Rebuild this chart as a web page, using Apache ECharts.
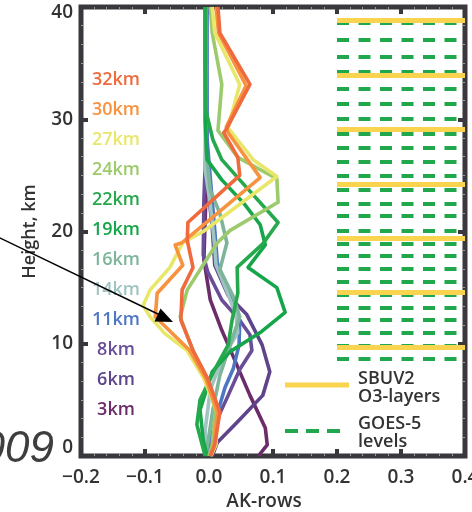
<!DOCTYPE html>
<html>
<head>
<meta charset="utf-8">
<script src="https://cdn.jsdelivr.net/npm/echarts@6.0.0/dist/echarts.min.js"></script>
<style>
  html, body { margin: 0; padding: 0; background: #ffffff; }
  #chart { width: 472px; height: 512px; }
</style>
</head>
<body>
<div id="chart"></div>
<script>
// Averaging-kernel rows: [AK value, height km], top to bottom
const ak32 = [[0.014,40],[0.017,37.7],[0.064,33.1],[0.028,29.2],[0.023,28.8],[0.045,26.6],[0.048,25.0],[-0.033,20.8],[-0.034,19.2],[-0.025,16.8],[-0.042,14.8],[-0.044,12.1],[-0.025,9.4],[-0.002,6.9],[0.017,3.9],[0.009,1.0],[0.002,0]];
const ak30 = [[0.011,40],[0.015,37.7],[0.058,33.0],[0.027,29.3],[0.030,28.8],[0.080,24.8],[-0.042,19.0],[-0.053,18.8],[-0.041,17.0],[-0.081,14.5],[-0.084,12.4],[-0.030,9.4],[-0.005,6.9],[0.013,3.9],[0.008,1.0],[0.002,0]];
const ak27 = [[0.005,40],[0.009,37.7],[0.048,33.1],[0.033,29.9],[0.030,29.2],[0.069,26.4],[0.106,24.9],[-0.009,20.0],[-0.041,19.0],[-0.061,16.8],[-0.092,14.8],[-0.103,13.4],[-0.092,12.4],[-0.069,10.9],[-0.034,9.4],[-0.008,6.9],[0.013,3.9],[0.011,1.0],[0.003,0]];
const ak24 = [[0.002,40],[0.005,37.7],[0.020,33.1],[0.014,29.0],[0.045,26.6],[0.106,24.7],[0.108,22.6],[0.033,20.1],[0.013,19.0],[-0.034,14.8],[-0.045,12.4],[-0.025,9.4],[-0.003,6.9],[0.010,4.0],[0.005,1.0],[0.0,0]];
const ak22 = [[-0.006,40],[-0.006,34.7],[-0.005,30.8],[0.006,28.2],[0.020,26.4],[0.048,24.6],[0.108,20.8],[0.084,18.9],[0.044,16.8],[0.045,14.5],[0.036,12.1],[0.030,9.9],[0.008,7.6],[-0.014,5.0],[-0.019,2.8],[-0.006,0]];
const ak19 = [[-0.006,40],[-0.006,29.9],[-0.003,26.4],[0.020,24.6],[0.056,22.4],[0.080,20.6],[0.088,18.8],[0.061,16.8],[0.106,15.0],[0.119,12.8],[0.080,11.0],[0.033,9.3],[0.005,7.5],[-0.014,4.1],[-0.009,1.4],[-0.003,0]];
const ak16 = [[-0.005,40],[-0.005,27.3],[0.002,23.7],[0.017,21.6],[0.028,19.0],[0.017,16.6],[0.038,14.2],[0.048,12.4],[0.033,9.9],[0.017,7.2],[0.006,4.1],[-0.005,0]];
const ak14 = [[-0.006,40],[-0.006,25.5],[0.002,22.4],[0.008,19.2],[0.011,17.0],[0.027,14.8],[0.042,12.6],[0.045,11.0],[0.020,8.6],[0.002,5.9],[-0.006,2.3],[-0.005,0]];
const ak11 = [[-0.003,40],[-0.003,28.2],[0.005,22.8],[0.009,20.1],[0.013,17.2],[0.033,14.2],[0.048,12.1],[0.047,9.9],[0.038,7.8],[0.025,6.1],[0.009,3.0],[-0.002,0]];
const ak8  = [[-0.005,40],[-0.005,27.3],[-0.008,22.8],[-0.009,17.9],[-0.002,16.4],[0.020,13.9],[0.048,12.1],[0.064,10.8],[0.067,9.4],[0.048,7.7],[0.030,5.4],[0.009,2.8],[0.002,0]];
const ak6  = [[-0.005,40],[-0.003,24.6],[0.005,20.4],[0.009,17.0],[0.030,14.3],[0.059,12.6],[0.083,9.9],[0.095,7.5],[0.084,5.4],[0.044,3.0],[0.013,1.2],[0.005,0]];
const ak3  = [[-0.005,40],[-0.005,22.8],[-0.008,17.5],[0.002,13.9],[0.020,11.2],[0.030,9.9],[0.064,5.4],[0.088,2.5],[0.091,1.0],[0.077,0]];

const rowNames  = ['32km','30km','27km','24km','22km','19km','16km','14km','11km','8km','6km','3km'];
const rowData   = [ak32, ak30, ak27, ak24, ak22, ak19, ak16, ak14, ak11, ak8, ak6, ak3];
const rowColors = ['#ef6a3c','#f7923f','#e9e76a','#9dca6d','#26a84c','#16a64a','#7db59b','#a0c4c2','#4e77c3','#6a4d98','#5f448c','#6c2c6a'];

// Layer boundaries (km) and model levels (km)
const sbuvLayers = [38.8, 33.9, 29.1, 24.2, 19.4, 14.6, 9.7];
const goesLevels = [38.6, 37.06, 35.57, 34.24, 32.76, 31.42, 30.08, 28.75, 27.5, 26.22, 24.97, 23.7, 22.51, 21.38, 20.07, 18.95, 17.82, 16.66, 15.53, 14.34, 13.21, 12.12, 10.98, 9.83, 8.64];
const levelSpan = [0.2, 0.4];

const xTicks = { min: -0.2, max: 0.4, step: 0.1 };
const yTicks = { min: 0, max: 40, step: 10 };

const AX = '#38383d';
const FONT = '"Open Sans", "Liberation Sans", sans-serif';

const chart = echarts.init(document.getElementById('chart'), null, { renderer: 'canvas' });

const fmtX = v => Math.abs(v) < 1e-9 ? '0.0' : (v < 0 ? '\u2212' : '') + Math.abs(v).toFixed(1);

const noLine = { show: false, onZero: false };
const tickStyle = { show: true, inside: true, length: 7, lineStyle: { color: AX, width: 4 } };
const minorStyle = { show: true, length: 3, lineStyle: { color: '#9a9a9a', width: 1 } };

const lineSeries = rowData.map((d, i) => ({
  name: rowNames[i],
  type: 'line',
  data: d,
  showSymbol: false,
  symbol: 'none',
  z: 2 + (rowData.length - i) * 0.01,
  lineStyle: { color: rowColors[i], width: 3.6, join: 'round' },
  silent: true
})).reverse();

const layerSeries = {
  name: 'SBUV2 O3-layers',
  type: 'lines',
  coordinateSystem: 'cartesian2d',
  z: 3,
  lineStyle: { color: '#fbd44f', width: 5, opacity: 1 },
  data: sbuvLayers.map(h => ({ coords: [[levelSpan[0], h], [levelSpan[1], h]] }))
};
const levelSeries = {
  name: 'GOES-5 levels',
  type: 'lines',
  coordinateSystem: 'cartesian2d',
  z: 2,
  lineStyle: { color: '#22a84c', width: 4, type: [12, 9.5], opacity: 1 },
  data: goesLevels.map(h => ({ coords: [[levelSpan[0], h], [levelSpan[1], h]] }))
};

const kmLabels = rowNames.map((t, i) => ({
  type: 'text', x: 116, y: 80 + i * 30, z: 20,
  style: { text: t, fill: rowColors[i], font: '600 18px ' + FONT, align: 'center', verticalAlign: 'middle' }
}));

const option = {
  animation: false,
  backgroundColor: '#ffffff',
  grid: {
    left: 81, right: 7, top: 7, bottom: 56,
    outerBoundsMode: 'none', containLabel: false,
    show: true, borderColor: AX, borderWidth: 5, backgroundColor: 'transparent'
  },
  xAxis: [
    {
      type: 'value', position: 'bottom', min: xTicks.min, max: xTicks.max, interval: xTicks.step,
      axisLine: noLine, axisTick: tickStyle, minorTick: Object.assign({ splitNumber: 5 }, minorStyle),
      splitLine: { show: false },
      axisLabel: { margin: 12, color: '#333', fontSize: 19, fontFamily: FONT, fontWeight: 600, formatter: fmtX, hideOverlap: false },
      name: 'AK-rows', nameLocation: 'middle', nameGap: 36,
      nameTextStyle: { color: '#333', fontSize: 19, fontFamily: FONT, fontWeight: 600, padding: [0, 18, 0, 0] }
    },
    {
      type: 'value', position: 'top', min: xTicks.min, max: xTicks.max, interval: xTicks.step,
      axisLine: noLine, axisTick: tickStyle, minorTick: Object.assign({ splitNumber: 5 }, minorStyle),
      splitLine: { show: false }, axisLabel: { show: false }
    }
  ],
  yAxis: [
    {
      type: 'value', position: 'left', min: yTicks.min, max: yTicks.max, interval: yTicks.step,
      axisLine: noLine, axisTick: tickStyle, minorTick: Object.assign({ splitNumber: 6 }, minorStyle),
      splitLine: { show: false },
      axisLabel: {
        margin: 8, color: '#333', fontSize: 19, fontFamily: FONT, fontWeight: 600,
        formatter: v => v === yTicks.max ? '{hi|' + v + '}' : (v === yTicks.min ? '{lo|' + v + '}' : String(v)),
        rich: {
          hi: { fontSize: 19, fontFamily: FONT, fontWeight: 600, color: '#333', padding: [12, 0, 0, 0] },
          lo: { fontSize: 19, fontFamily: FONT, fontWeight: 600, color: '#333', padding: [0, 0, 16, 0] }
        }
      },
      name: 'Height, km', nameLocation: 'middle', nameGap: 42,
      nameTextStyle: { color: '#333', fontSize: 18, fontFamily: FONT, fontWeight: 600 }
    },
    {
      type: 'value', position: 'right', min: yTicks.min, max: yTicks.max, interval: yTicks.step,
      axisLine: noLine, axisTick: tickStyle, minorTick: Object.assign({ splitNumber: 6 }, minorStyle),
      splitLine: { show: false }, axisLabel: { show: false }
    }
  ],
  series: [levelSeries, layerSeries].concat(lineSeries),
  graphic: [
    // arrow pointing into the plot
    { type: 'line', z: 30, shape: { x1: -2, y1: 237, x2: 160, y2: 315 }, style: { stroke: '#000', lineWidth: 1.5 } },
    { type: 'polygon', z: 30, shape: { points: [[173, 322], [160.5, 308.5], [154.5, 321.5]] }, style: { fill: '#000' } },
    // year fragment at the lower left
    { type: 'text', z: 30, x: 54, y: 472, style: { text: '2009', fill: '#3e3e3e', font: 'italic 44px "Liberation Sans", sans-serif', align: 'right', verticalAlign: 'bottom' } },
    // legend
    { type: 'line', z: 30, shape: { x1: 285, y1: 385, x2: 349, y2: 385 }, style: { stroke: '#fbd44f', lineWidth: 5 } },
    { type: 'text', z: 30, x: 358, y: 388, style: { text: 'SBUV2\nO3-layers', fill: '#333', font: '600 18px ' + FONT, lineHeight: 18, align: 'left', verticalAlign: 'middle' } },
    { type: 'line', z: 30, shape: { x1: 285, y1: 431, x2: 340, y2: 431 }, style: { stroke: '#22a84c', lineWidth: 4, lineDash: [13, 8] } },
    { type: 'text', z: 30, x: 358, y: 433, style: { text: 'GOES-5\nlevels', fill: '#333', font: '600 18px ' + FONT, lineHeight: 18, align: 'left', verticalAlign: 'middle' } }
  ].concat(kmLabels)
};

chart.setOption(option);
</script>
</body>
</html>
